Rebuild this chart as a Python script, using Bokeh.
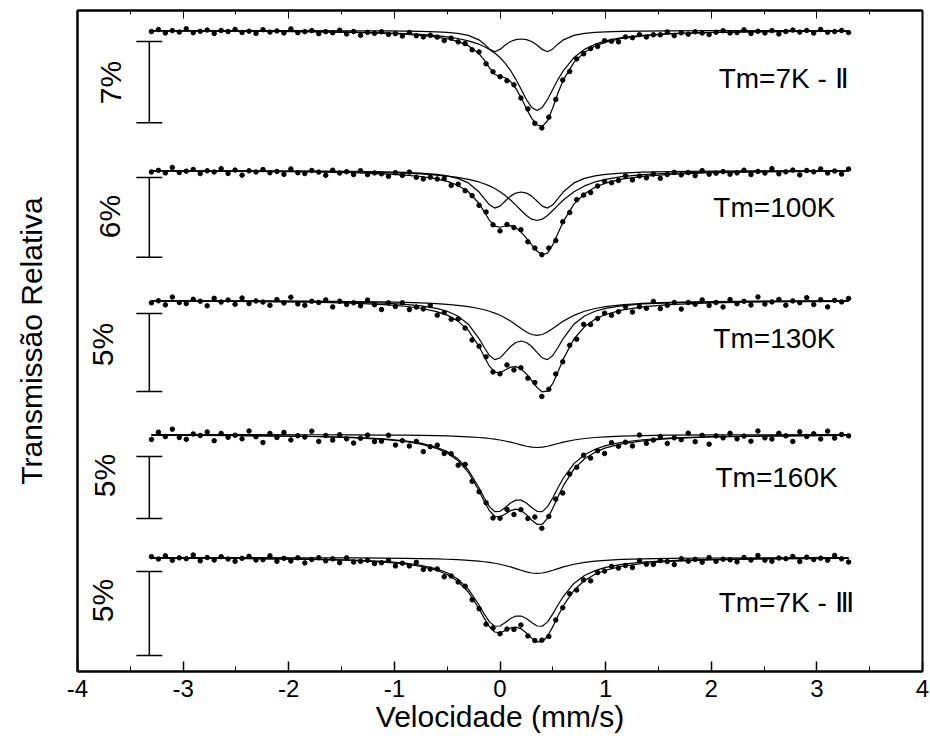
import numpy as np
from math import pi
from bokeh.plotting import figure
from bokeh.models import Range1d, LinearAxis, FixedTicker, Label
from bokeh.embed import file_html
from bokeh.resources import INLINE

# ---------------- data (absorption in %, positive = dip) ----------------
VEL = np.linspace(-3.3, 3.3, 101)          # velocity channels (mm/s)

FIT_VEL = [-3.3, -2.5, -1.8, -1.4, -1.1, -0.9, -0.75, -0.6, -0.5, -0.4, -0.3, -0.2, -0.15,
           -0.1, -0.05, 0.0, 0.05, 0.1, 0.15, 0.2, 0.25, 0.3, 0.35, 0.4, 0.45, 0.5, 0.55,
           0.6, 0.7, 0.8, 0.9, 1.0, 1.15, 1.35, 1.6, 2.0, 2.5, 3.3]

LABELS = ["Tm=7K - Ⅱ", "Tm=100K", "Tm=130K", "Tm=160K", "Tm=7K - Ⅲ"]
SCALE_PCT = [7, 6, 5, 5, 5]
SCALE_TEXT = ["7%", "6%", "5%", "5%", "5%"]

data_7K_II = [0.09, -0.08, 0.21, 0.01, 0.13, -0.15, 0.19, 0.07, -0.04, 0.26,
              0.00, 0.09, -0.09, 0.17, 0.06, 0.25, -0.07, 0.14, 0.04, 0.21,
              -0.14, 0.19, 0.10, 0.01, 0.27, 0.10, 0.19, -0.02, 0.30, 0.09,
              0.42, 0.16, 0.24, 0.11, 0.33, 0.27, 0.48, 0.17, 0.45, 0.55,
              0.41, 0.57, 0.87, 0.66, 0.98, 1.13, 1.67, 1.85, 2.87, 3.56,
              3.98, 4.33, 4.68, 5.82, 6.76, 8.00, 8.40, 7.47, 5.94, 4.27,
              3.53, 2.45, 2.01, 1.56, 1.37, 0.88, 0.92, 0.98, 0.55, 0.62,
              0.36, 0.56, 0.37, 0.37, 0.12, 0.44, 0.20, 0.32, 0.11, 0.22,
              0.35, 0.15, 0.02, 0.22, 0.18, -0.06, 0.26, 0.07, 0.21, 0.01,
              0.30, 0.09, -0.04, 0.14, 0.00, 0.22, -0.09, 0.15, 0.09, 0.00, 0.18]
data_100K = [0.11, -0.01, 0.18, -0.23, 0.15, 0.05, -0.08, 0.23, 0.02, 0.11,
             -0.14, 0.22, -0.03, 0.35, 0.02, 0.11, -0.07, 0.17, 0.07, 0.29,
             -0.12, 0.17, 0.23, 0.00, 0.12, 0.36, -0.02, 0.19, 0.09, 0.31,
             0.01, 0.31, 0.18, 0.25, 0.44, 0.16, 0.37, 0.12, 0.51, 0.63,
             0.50, 0.64, 0.61, 1.12, 1.03, 1.52, 1.89, 2.62, 3.12, 4.08,
             4.54, 4.06, 4.29, 4.45, 5.36, 5.83, 6.33, 5.83, 5.27, 3.86,
             3.16, 2.19, 1.85, 1.66, 1.17, 0.82, 0.92, 0.75, 0.40, 0.71,
             0.42, 0.55, 0.27, 0.59, 0.30, 0.14, 0.33, 0.15, 0.39, 0.01,
             0.28, 0.20, 0.08, 0.28, 0.18, -0.02, 0.31, 0.07, 0.19, -0.14,
             0.25, 0.10, -0.03, 0.33, 0.00, 0.10, -0.12, 0.19, 0.04, 0.27, -0.11]
data_130K = [0.15, 0.02, 0.28, -0.22, 0.13, 0.20, -0.08, 0.05, 0.34, -0.14,
             0.10, -0.03, 0.24, -0.16, 0.20, 0.03, 0.10, 0.31, -0.06, 0.16,
             -0.21, 0.22, 0.31, 0.05, 0.13, -0.04, 0.41, 0.05, 0.25, 0.15,
             0.34, -0.03, 0.27, 0.58, 0.15, 0.38, 0.15, 0.58, 0.42, 0.54,
             0.32, 0.94, 0.77, 1.20, 1.18, 1.77, 2.53, 2.93, 3.61, 4.58,
             4.70, 4.13, 4.45, 4.31, 4.98, 5.26, 6.15, 5.69, 4.71, 3.93,
             2.87, 2.48, 1.53, 1.54, 1.15, 0.81, 0.95, 0.72, 0.39, 0.74,
             0.40, 0.50, 0.06, 0.52, 0.31, 0.13, 0.55, 0.13, 0.24, -0.04,
             0.32, 0.13, 0.41, -0.06, 0.21, 0.05, 0.29, -0.23, 0.23, 0.09,
             -0.07, 0.30, 0.03, 0.14, -0.18, 0.26, -0.05, 0.41, -0.01, 0.09, -0.13]
data_160K = [0.40, -0.19, 0.17, -0.43, 0.24, 0.39, -0.04, 0.08, -0.20, 0.50,
             -0.09, 0.23, 0.06, 0.35, -0.28, 0.18, 0.65, -0.09, 0.24, -0.17,
             0.44, 0.10, 0.21, -0.27, 0.56, 0.08, 0.45, 0.02, 0.35, 0.69,
             0.30, 0.05, 0.57, 0.54, 0.06, 0.85, 0.50, 0.93, 0.56, 1.38,
             0.98, 0.86, 1.53, 1.55, 2.48, 2.41, 3.78, 4.62, 5.51, 6.73,
             6.75, 6.04, 6.45, 6.06, 6.77, 6.66, 7.56, 6.61, 5.21, 4.72,
             3.19, 2.64, 1.67, 1.90, 1.31, 1.53, 0.66, 0.95, 0.62, 0.92,
             0.04, 0.71, 0.45, 0.16, 0.72, 0.27, 0.42, -0.11, 0.58, 0.07,
             0.78, 0.11, 0.27, -0.10, 0.35, 0.13, 0.54, -0.28, 0.27, 0.37,
             -0.10, 0.11, 0.56, -0.22, 0.16, -0.06, 0.36, -0.27, 0.29, 0.00, 0.11]
data_7K_III = [-0.05, 0.09, -0.10, 0.17, 0.02, 0.07, -0.15, 0.20, 0.00, 0.15,
               -0.05, 0.09, 0.23, 0.05, -0.07, 0.15, 0.13, -0.10, 0.23, 0.05,
               0.21, 0.02, 0.32, 0.12, 0.01, 0.20, 0.08, 0.31, 0.02, 0.27,
               0.23, 0.16, 0.36, 0.31, 0.17, 0.50, 0.34, 0.50, 0.29, 0.71,
               0.69, 0.68, 1.15, 1.10, 1.46, 1.71, 2.52, 3.05, 3.97, 4.20,
               4.54, 4.26, 4.28, 4.02, 4.67, 4.94, 4.92, 4.70, 3.72, 2.99,
               2.16, 1.94, 1.34, 1.39, 0.90, 0.81, 0.53, 0.63, 0.48, 0.60,
               0.20, 0.40, 0.41, 0.18, 0.24, 0.42, 0.07, 0.22, 0.11, 0.28,
               0.00, 0.23, 0.10, 0.14, 0.26, 0.00, 0.15, -0.12, 0.16, 0.22,
               0.03, 0.07, -0.06, 0.24, -0.02, 0.12, 0.04, 0.16, -0.12, 0.08, 0.27]

# fitted sub-spectra (singlet, doublet) and total fit, on FIT_VEL
singlet_7K_II = [0.032, 0.053, 0.092, 0.138, 0.199, 0.266, 0.339, 0.447, 0.549, 0.69, 0.89, 1.18, 1.38,
                 1.63, 1.94, 2.33, 2.83, 3.45, 4.21, 5.07, 5.95, 6.63, 6.90, 6.63, 5.95, 5.07, 4.21,
                 3.45, 2.33, 1.63, 1.18, 0.89, 0.61, 0.41, 0.27, 0.155, 0.092, 0.049]
doublet_7K_II = [0.005, 0.008, 0.015, 0.024, 0.038, 0.055, 0.077, 0.117, 0.163, 0.248, 0.416, 0.805, 1.158,
                 1.589, 1.828, 1.631, 1.245, 0.946, 0.783, 0.733, 0.783, 0.946, 1.245, 1.631, 1.828, 1.589, 1.158,
                 0.805, 0.416, 0.248, 0.163, 0.117, 0.077, 0.050, 0.033, 0.019, 0.011, 0.006]
total_7K_II = [0.037, 0.061, 0.107, 0.162, 0.237, 0.321, 0.416, 0.564, 0.712, 0.938, 1.306, 1.985, 2.538,
               3.219, 3.768, 3.961, 4.075, 4.396, 4.993, 5.803, 6.733, 7.576, 8.145, 8.261, 7.778, 6.659, 5.368,
               4.255, 2.746, 1.878, 1.343, 1.007, 0.687, 0.46, 0.303, 0.174, 0.103, 0.055]

singlet_100K = [0.025, 0.041, 0.072, 0.108, 0.154, 0.205, 0.261, 0.341, 0.417, 0.519, 0.662, 0.861, 0.996,
                1.158, 1.354, 1.594, 1.88, 2.218, 2.602, 3.008, 3.384, 3.658, 3.76, 3.658, 3.384, 3.008, 2.602,
                2.218, 1.594, 1.158, 0.861, 0.662, 0.462, 0.311, 0.205, 0.120, 0.072, 0.038]
doublet_100K = [0.012, 0.021, 0.038, 0.061, 0.096, 0.138, 0.192, 0.289, 0.399, 0.589, 0.934, 1.603, 2.092,
                2.578, 2.826, 2.675, 2.294, 1.928, 1.695, 1.618, 1.695, 1.928, 2.294, 2.675, 2.826, 2.578, 2.092,
                1.603, 0.934, 0.589, 0.399, 0.289, 0.192, 0.125, 0.082, 0.049, 0.028, 0.015]
total_100K = [0.037, 0.062, 0.110, 0.169, 0.250, 0.343, 0.453, 0.630, 0.816, 1.108, 1.596, 2.464, 3.088,
              3.736, 4.18, 4.269, 4.174, 4.146, 4.297, 4.626, 5.079, 5.586, 6.054, 6.333, 6.21, 5.586, 4.694,
              3.821, 2.528, 1.747, 1.26, 0.951, 0.654, 0.436, 0.287, 0.169, 0.100, 0.053]

singlet_130K = [0.015, 0.024, 0.043, 0.064, 0.092, 0.122, 0.155, 0.203, 0.248, 0.309, 0.394, 0.513, 0.593,
                0.69, 0.807, 0.95, 1.12, 1.321, 1.55, 1.792, 2.016, 2.179, 2.24, 2.179, 2.016, 1.792, 1.55,
                1.321, 0.95, 0.69, 0.513, 0.394, 0.275, 0.185, 0.122, 0.071, 0.043, 0.023]
doublet_130K = [0.022, 0.037, 0.069, 0.110, 0.171, 0.246, 0.341, 0.506, 0.689, 0.996, 1.518, 2.421, 2.997,
                3.523, 3.79, 3.683, 3.33, 2.95, 2.691, 2.597, 2.691, 2.95, 3.33, 3.683, 3.79, 3.523, 2.997,
                2.421, 1.518, 0.996, 0.689, 0.506, 0.341, 0.223, 0.147, 0.087, 0.052, 0.028]
total_130K = [0.037, 0.061, 0.112, 0.174, 0.263, 0.368, 0.496, 0.709, 0.937, 1.305, 1.912, 2.934, 3.59,
              4.213, 4.597, 4.633, 4.45, 4.271, 4.241, 4.389, 4.707, 5.129, 5.57, 5.862, 5.806, 5.315, 4.547,
              3.742, 2.468, 1.686, 1.202, 0.90, 0.616, 0.408, 0.269, 0.158, 0.095, 0.051]

singlet_160K = [0.007, 0.011, 0.020, 0.030, 0.043, 0.057, 0.073, 0.095, 0.116, 0.145, 0.185, 0.240, 0.278,
                0.323, 0.378, 0.445, 0.525, 0.619, 0.727, 0.84, 0.945, 1.022, 1.05, 1.022, 0.945, 0.84, 0.727,
                0.619, 0.445, 0.323, 0.24, 0.185, 0.129, 0.087, 0.057, 0.034, 0.020, 0.011]
doublet_160K = [0.046, 0.077, 0.143, 0.228, 0.354, 0.508, 0.70, 1.025, 1.38, 1.947, 2.863, 4.275, 5.099,
                5.82, 6.216, 6.195, 5.886, 5.521, 5.294, 5.294, 5.521, 5.886, 6.195, 6.216, 5.82, 5.099, 4.275,
                3.507, 2.348, 1.633, 1.185, 0.896, 0.626, 0.422, 0.281, 0.168, 0.103, 0.057]
total_160K = [0.053, 0.088, 0.163, 0.258, 0.397, 0.565, 0.773, 1.12, 1.496, 2.092, 3.048, 4.515, 5.377,
              6.143, 6.594, 6.64, 6.411, 6.14, 6.021, 6.134, 6.466, 6.908, 7.245, 7.238, 6.765, 5.939, 5.002,
              4.126, 2.793, 1.956, 1.425, 1.081, 0.755, 0.509, 0.338, 0.202, 0.123, 0.068]

singlet_7K_III = [0.006, 0.010, 0.018, 0.027, 0.039, 0.052, 0.066, 0.086, 0.105, 0.131, 0.167, 0.218, 0.252,
                  0.293, 0.342, 0.403, 0.475, 0.56, 0.658, 0.76, 0.855, 0.924, 0.95, 0.924, 0.855, 0.76, 0.658,
                  0.56, 0.403, 0.293, 0.218, 0.167, 0.117, 0.079, 0.052, 0.030, 0.018, 0.010]
doublet_7K_III = [0.030, 0.051, 0.094, 0.150, 0.233, 0.334, 0.461, 0.675, 0.909, 1.281, 1.885, 2.814, 3.356,
                  3.831, 4.092, 4.078, 3.875, 3.634, 3.485, 3.485, 3.634, 3.875, 4.078, 4.092, 3.831, 3.356, 2.814,
                  2.309, 1.546, 1.075, 0.78, 0.59, 0.412, 0.278, 0.185, 0.111, 0.068, 0.037]
total_7K_III = [0.036, 0.061, 0.112, 0.177, 0.272, 0.386, 0.527, 0.761, 1.014, 1.412, 2.052, 3.032, 3.608,
                4.124, 4.434, 4.481, 4.35, 4.194, 4.143, 4.245, 4.489, 4.799, 5.028, 5.016, 4.686, 4.116, 3.472,
                2.869, 1.949, 1.368, 0.998, 0.757, 0.529, 0.357, 0.237, 0.141, 0.086, 0.047]

DATA = [data_7K_II, data_100K, data_130K, data_160K, data_7K_III]
SINGLETS = [singlet_7K_II, singlet_100K, singlet_130K, singlet_160K, singlet_7K_III]
DOUBLETS = [doublet_7K_II, doublet_100K, doublet_130K, doublet_160K, doublet_7K_III]
TOTALS = [total_7K_II, total_100K, total_130K, total_160K, total_7K_III]

# ---------------- layout (stacking offsets / vertical scale per spectrum) ----------------
OFFSET = [641, 501, 371, 237, 114]       # baseline position, plot units
UNIT = [11.6, 13.3, 15.6, 12.4, 16.8]    # plot units per 1 % absorption
BAR_GAP = [0.95, 0.53, 0.83, 1.77, 0.83] # % below baseline where scale bar starts
BAR_X, BAR_CAP = -3.32, 0.123
PCT_LABEL_X = [-3.69, -3.70, -3.76, -3.74, -3.76]
PCT_LABEL_Y = [589, 455, 327, 196, 71]
NAME_X = [2.07, 2.02, 2.02, 2.04, 2.07]
NAME_Y = [593, 464, 333, 194, 69]

FONT = "Liberation Sans"

p = figure(width=930, height=745, output_backend="svg", toolbar_location=None,
           x_range=Range1d(-4, 4), y_range=Range1d(0, 661),
           min_border_left=77, min_border_right=8, min_border_top=10, min_border_bottom=74)
p.xgrid.visible = False
p.ygrid.visible = False
p.outline_line_color = "black"
p.outline_line_width = 2
p.background_fill_color = "white"
p.border_fill_color = "white"

ticks = [-4, -3, -2, -1, 0, 1, 2, 3, 4]
minor = [-3.5, -2.5, -1.5, -0.5, 0.5, 1.5, 2.5, 3.5]
xa = p.xaxis[0]
xa.ticker = FixedTicker(ticks=ticks, minor_ticks=minor)
xa.major_label_overrides = {t: str(t) for t in ticks}
xa.major_tick_in = 10
xa.major_tick_out = 0
xa.minor_tick_in = 5
xa.minor_tick_out = 0
xa.major_tick_line_width = 1.5
xa.axis_line_width = 2
xa.major_label_text_font = FONT
xa.major_label_text_font_size = "24px"
xa.major_label_text_color = "black"
xa.major_label_standoff = 8
xa.axis_label = "Velocidade (mm/s)"
xa.axis_label_text_font = FONT
xa.axis_label_text_font_size = "30px"
xa.axis_label_text_font_style = "normal"
xa.axis_label_text_color = "black"
xa.axis_label_standoff = 0

top = LinearAxis(ticker=FixedTicker(ticks=ticks, minor_ticks=minor))
top.major_tick_in = 8
top.major_tick_out = 0
top.minor_tick_in = 4
top.minor_tick_out = 0
top.major_label_text_color = None
top.major_label_text_font_size = "1px"
top.major_label_standoff = 0
top.axis_line_width = 2
p.add_layout(top, "above")

ya = p.yaxis[0]
ya.ticker = FixedTicker(ticks=[])
ya.major_label_text_color = None
ya.major_label_text_font_size = "1px"
ya.major_tick_line_color = None
ya.minor_tick_line_color = None
ya.axis_line_width = 2
ya.axis_label = "Transmissão Relativa"
ya.axis_label_text_font = FONT
ya.axis_label_text_font_size = "30px"
ya.axis_label_text_font_style = "normal"
ya.axis_label_text_color = "black"
ya.axis_label_standoff = 30

for k in range(5):
    off, u = OFFSET[k], UNIT[k]
    for comp in (SINGLETS[k], DOUBLETS[k], TOTALS[k]):
        p.line(FIT_VEL, [off - u * v for v in comp], line_color="black", line_width=1.2)
    p.scatter(VEL, [off - u * v for v in DATA[k]], size=4.5, marker="circle",
              fill_color="black", line_color="black")
    y_top = off - u * BAR_GAP[k]
    y_bot = off - u * (BAR_GAP[k] + SCALE_PCT[k])
    p.segment(x0=[BAR_X, BAR_X - BAR_CAP, BAR_X - BAR_CAP], y0=[y_top, y_top, y_bot],
              x1=[BAR_X, BAR_X + BAR_CAP, BAR_X + BAR_CAP], y1=[y_bot, y_top, y_bot],
              line_color="black", line_width=1.5)
    p.add_layout(Label(x=PCT_LABEL_X[k], y=PCT_LABEL_Y[k], text=SCALE_TEXT[k], angle=pi / 2,
                       text_align="center", text_baseline="middle", text_font=FONT,
                       text_font_size="30px", text_color="black"))
    p.add_layout(Label(x=NAME_X[k], y=NAME_Y[k], text=LABELS[k], text_align="left",
                       text_baseline="middle", text_font=FONT, text_font_size="28px",
                       text_color="black"))

open("out.html", "w").write(file_html(p, INLINE))
